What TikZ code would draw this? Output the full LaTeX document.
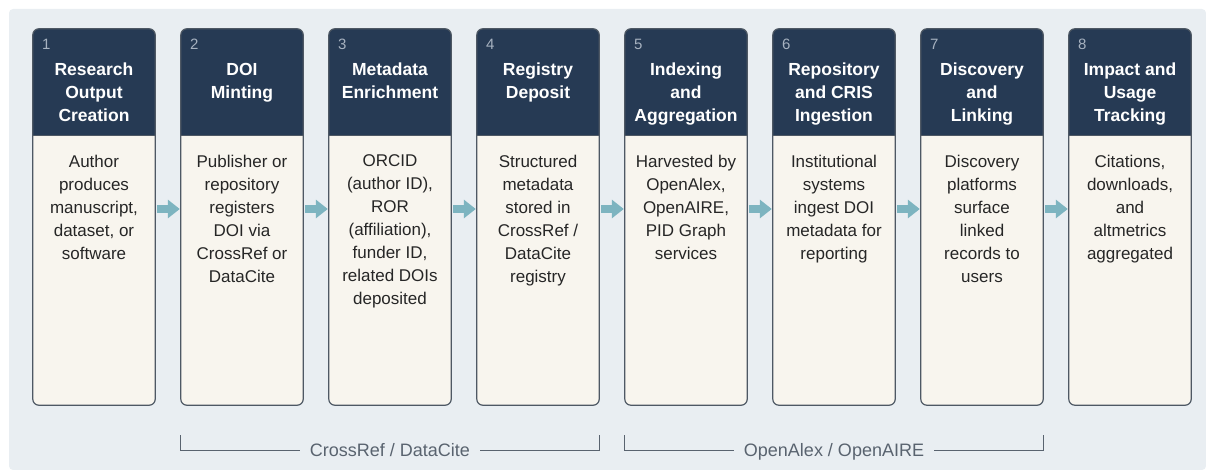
\documentclass[tikz,border=0pt]{standalone}
\usepackage{fontspec}
\setmainfont{Liberation Sans}
\usetikzlibrary{arrows.meta,calc}
\definecolor{panelbg}{HTML}{E9EEF2}
\definecolor{headbg}{HTML}{263A54}
\definecolor{bodybg}{HTML}{F8F5EE}
\definecolor{frame}{HTML}{4E5864}
\definecolor{numgrey}{HTML}{A7B2C0}
\definecolor{flow}{HTML}{7DB4C0}
\definecolor{brace}{HTML}{59636F}
\tikzset{
  stepbox/.style={rectangle, fill=bodybg, rounded corners=6pt, minimum width=122pt, minimum height=376pt, inner sep=0pt},
  stepnum/.style={text=numgrey, font=\fontsize{15}{15}\selectfont, inner sep=0pt, anchor=north west},
  steptitle/.style={align=center, text=white, font=\fontsize{17.5}{23}\selectfont\bfseries, inner sep=0pt, anchor=north},
  steptext/.style={align=center, text=black!85, font=\fontsize{17}{23}\selectfont, inner sep=0pt, anchor=north},
  flowarrow/.style={draw=flow, line width=7.5pt, -{Triangle[length=12pt,width=18pt]}, shorten <=2pt, shorten >=1pt},
  groupline/.style={draw=brace, line width=0.9pt},
  grouplabel/.style={text=brace, font=\fontsize{18}{18}\selectfont, text height=13pt, text depth=0pt, inner xsep=10pt, inner ysep=0pt}
}
\begin{document}
\begin{tikzpicture}[x=1pt, y=-1pt]
  \useasboundingbox (0,0) rectangle (1206,470);
  \fill[panelbg, rounded corners=4pt] (9,9) rectangle (1206,470);

  % Nodes
  \foreach \i/\ttl/\txt in {
      1/{Research\\Output\\Creation}/{Author\\produces\\manuscript,\\dataset, or\\software},
      2/{DOI\\Minting}/{Publisher or\\repository\\registers\\DOI via\\CrossRef or\\DataCite},
      3/{Metadata\\Enrichment}/{ORCID\\(author ID),\\ROR\\(affiliation),\\funder ID,\\related DOIs\\deposited},
      4/{Registry\\Deposit}/{Structured\\metadata\\stored in\\CrossRef /\\DataCite\\registry},
      5/{Indexing\\and\\Aggregation}/{Harvested by\\OpenAlex,\\OpenAIRE,\\PID Graph\\services},
      6/{Repository\\and CRIS\\Ingestion}/{Institutional\\systems\\ingest DOI\\metadata for\\reporting},
      7/{Discovery\\and\\Linking}/{Discovery\\platforms\\surface\\linked\\records to\\users},
      8/{Impact and\\Usage\\Tracking}/{Citations,\\downloads,\\and\\altmetrics\\aggregated}} {
    \node[stepbox] (s\i) at ({94+148*(\i-1)},217) {};
    \begin{scope}
      \clip[rounded corners=6pt] (s\i.north west) rectangle (s\i.south east);
      \fill[headbg] (s\i.north west) rectangle ([yshift=-107pt]s\i.north east);
    \end{scope}
    \draw[frame, line width=1.2pt] ([yshift=-107pt]s\i.north west) -- ([yshift=-107pt]s\i.north east);
    \draw[frame, line width=1.2pt, rounded corners=6pt] (s\i.north west) rectangle (s\i.south east);
    \node[stepnum] (n\i) at ([xshift=9pt, yshift=-10pt]s\i.north west) {\i};
    \node[steptitle] (t\i) at ([yshift=-34pt]s\i.north) {\ttl};
    \node[steptext] (d\i) at ([yshift=-126pt]s\i.north) {\txt};
  }

  % Edges
  \foreach \x/\y in {1/2, 2/3, 3/4, 4/5, 5/6, 6/7, 7/8}
    \draw[flowarrow] ([yshift=8pt]s\x.east) -- ([yshift=8pt]s\y.west);

  % Groups
  \node[grouplabel] (g1) at ($(s2.south west)!0.5!(s4.south east)+(0,45)$) {CrossRef / DataCite};
  \node[grouplabel] (g2) at ($(s5.south west)!0.5!(s7.south east)+(0,45)$) {OpenAlex / OpenAIRE};
  \draw[groupline] ([yshift=-30pt]s2.south west) |- (g1.west);
  \draw[groupline] ([yshift=-30pt]s4.south east) |- (g1.east);
  \draw[groupline] ([yshift=-30pt]s5.south west) |- (g2.west);
  \draw[groupline] ([yshift=-30pt]s7.south east) |- (g2.east);
\end{tikzpicture}
\end{document}
